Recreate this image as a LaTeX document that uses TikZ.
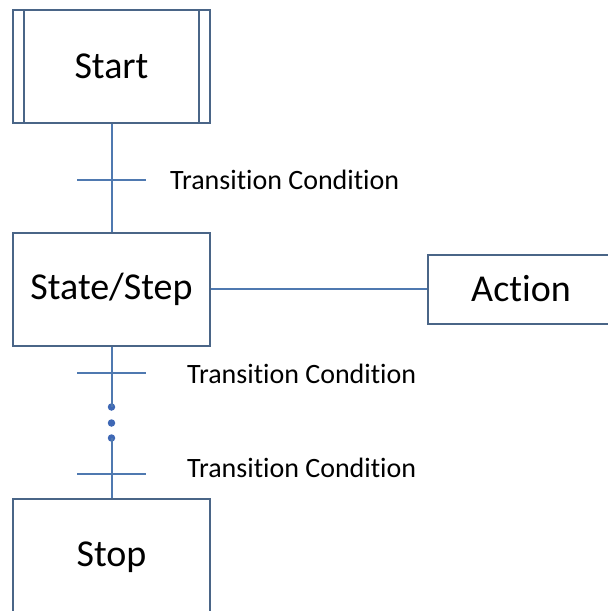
\documentclass[tikz,border=0pt]{standalone}
\usepackage{fontspec}
\setmainfont[RawFeature={-liga;-dlig;-calt;-clig}]{Carlito}
\definecolor{boxline}{HTML}{4A6587}
\definecolor{wire}{HTML}{4F79B0}
\definecolor{dotc}{HTML}{3F68B5}
\begin{document}
\begin{tikzpicture}[x=1pt,y=1pt,
  stepbox/.style={draw=boxline,line width=2pt,fill=white,minimum width=197pt,minimum height=113pt,inner sep=0pt,font=\fontsize{38}{44}\selectfont},
  wireline/.style={draw=wire,line width=2pt},
  cond/.style={anchor=west,inner sep=0pt,font=\fontsize{28}{33}\selectfont},
  dotmark/.style={circle,fill=dotc,minimum size=7.5pt,inner sep=0pt}]
\useasboundingbox (0,0) rectangle (608,-611);

% steps
\node[stepbox] (start) at (111.5,-66.5) {Start};
\draw[boxline,line width=2pt] ([xshift=12pt]start.north west) -- ([xshift=12pt]start.south west)
  ([xshift=-12pt]start.north east) -- ([xshift=-12pt]start.south east);
\node[stepbox] (state) at (111.5,-289.5) {State/Step};
\node[stepbox,minimum width=186pt,minimum height=69pt] (action) at (521,-289) {Action};
\node[stepbox,minimum height=117pt] (stop) at (111.5,-557.5) {Stop};

% continuation dots
\node[dotmark] (d1) at (111.5,-407) {};
\node[dotmark] (d2) at (111.5,-423) {};
\node[dotmark] (d3) at (111.5,-438) {};

% transition bars
\coordinate (b1l) at (77,-180);  \coordinate (b1r) at (146,-180);
\coordinate (b2l) at (77,-373);  \coordinate (b2r) at (146,-373);
\coordinate (b3l) at (77,-474);  \coordinate (b3r) at (146,-474);

% connectors
\draw[wireline] (start.south) -- (state.north);
\draw[wireline] (action.west -| state.east) -- (action.west);
\draw[wireline] (state.south) -- (d1.center);
\draw[wireline] (d3.center) -- (stop.north);
\draw[wireline] (b1l) -- (b1r);
\draw[wireline] (b2l) -- (b2r);
\draw[wireline] (b3l) -- (b3r);

% transition labels
\node[cond] (c1) at (170,-180) {Transition Condition};
\node[cond] (c2) at (187,-374) {Transition Condition};
\node[cond] (c3) at (187,-468) {Transition Condition};
\end{tikzpicture}
\end{document}
